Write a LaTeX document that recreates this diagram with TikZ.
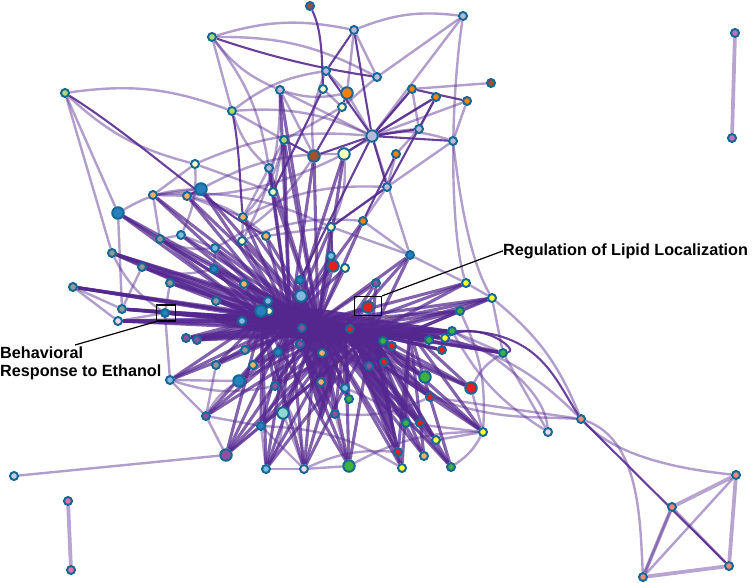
\documentclass[tikz,border=0pt]{standalone}
\usepackage{fontspec}
\setmainfont{Liberation Sans}
\pgfdeclarelayer{edges}
\pgfsetlayers{edges,main}
\definecolor{ep}{RGB}{84,39,143}
\definecolor{bd}{RGB}{20,104,150}
\definecolor{cbr}{RGB}{160,82,45}
\definecolor{clav}{RGB}{184,184,216}
\definecolor{clg}{RGB}{176,216,112}
\definecolor{cly}{RGB}{255,255,192}
\definecolor{cor}{RGB}{255,128,0}
\definecolor{clo}{RGB}{248,176,96}
\definecolor{cbl}{RGB}{40,128,190}
\definecolor{clb}{RGB}{128,184,224}
\definecolor{cgr}{RGB}{144,152,152}
\definecolor{cpu}{RGB}{144,80,160}
\definecolor{cre}{RGB}{230,30,30}
\definecolor{cgn}{RGB}{64,176,64}
\definecolor{cye}{RGB}{255,255,48}
\definecolor{csa}{RGB}{240,136,120}
\definecolor{cpk}{RGB}{230,112,176}
\definecolor{cpw}{RGB}{248,216,232}
\definecolor{cte}{RGB}{144,216,208}
\definecolor{cpp}{RGB}{192,112,192}
\definecolor{cgb}{RGB}{192,208,224}
\begin{document}
\begin{tikzpicture}[x=1pt,y=-1pt,
  nd/.style={circle,draw=bd,line width=2pt,inner sep=0pt,minimum size=8pt},
  bg/.style={nd,minimum size=11.5pt},
  lt/.style={draw=ep,draw opacity=0.45,line width=2.4pt},
  lthick/.style={draw=ep,draw opacity=0.42,line width=3.8pt},
  dk/.style={draw=ep,draw opacity=0.88,line width=2.1pt},
  hv/.style={draw=ep,draw opacity=0.72,line width=3.1pt},
  lab/.style={font=\fontsize{16.2}{19}\selectfont\bfseries,inner sep=0pt},
  boxx/.style={draw=black,line width=1.3pt,inner sep=0pt}]
\useasboundingbox (0,0) rectangle (752,583);
% small nodes
\foreach \n/\x/\y/\c in {
 t1/310/6/cbr, t2/354/30/clav, t3/212/37/clg, t4/463/16/clav, t5/65/93/clg,
 t6/232/111/clg, t7/326/71/clav, t8/323/89/cly, t10/342/107/cly, t11/280/90/clav,
 t13/284/140/clg, t16/195/164/cly, t17/269/168/clav, t18/273/192/cly, t19/491/83/cbr,
 t20/412/89/cor, t21/436/97/cor, t22/467/101/cor, t23/419/129/clav, t24/453/141/clav,
 t25/396/154/cor, t26/387/187/clav, t27/377/77/clav,
 m1/153/195/clo, m2/187/196/clo, m5/243/217/clo, m6/331/227/cly, m7/363/221/cor,
 m8/160/239/cgr, m9/181/235/clb, m10/242/241/cly, m11/266/236/clo, m12/215/248/clb,
 m13/112/253/cgr, m14/142/267/cgr, m15/170/283/cgr, m16/214/269/cbl, m17/300/280/cbl,
 m18/244/284/clo, m19/73/287/cgr, m20/331/256/clb, m23/345/268/cly, m24/410/255/cbl,
 c1/122/309/cgr, c2/118/321/cpw, c3/165/313/cbl, c4/186/338/cpu, c5/197/340/cpu,
 c6/216/301/cgr, c7/242/321/clb, c8/268/301/clb, c10/269/311/cly, c12/245/350/cgr,
 c13/253/365/clo, c14/278/352/cbl, c15/300/344/cpu, c16/322/353/clo, c18/350/329/cre,
 c19/376/283/cpu, c20/302/328/cpu, c21/369/366/cpu, c23/216/365/cgr, c24/170/380/clb,
 c26/275/386/cpu, c27/321/382/clo, c28/345/388/clb, c29/349/399/cgn, c30/206/416/cpu,
 c32/335/414/cpu, c33/261/426/cbl, c35/266/469/clb, c36/304/469/cpw,
 r0/466/283/cye, r1/492/298/cye, r2/460/311/cgn, r3/452/331/cgn, r4/445/338/cye,
 r5/429/340/cgn, r6/383/341/cgn, r7/392/346/cre, r8/442/350/cre, r9/503/353/cgn,
 r10/384/362/cre, r13/430/397/cre, r14/406/423/cgn, r15/420/423/cre, r16/436/440/cye,
 r17/483/432/cye, r18/398/452/cre, r19/402/468/cye, r20/424/456/clo, r21/451/467/cgn,
 r22/548/432/cpw, s1/581/419/csa, s2/736/475/csa, s3/672/507/csa, s4/729/566/csa,
 s5/643/577/csa, p1/735/33/cpp, p2/732/138/cpp, o1/14/476/cgb, o2/68/501/cpk, o3/71/570/cpk}
 \node[nd,fill=\c] (\n) at (\x,\y) {};
% big nodes
\foreach \n/\x/\y/\c in {
 t9/347/93/cor, t12/372/136/clav, t14/314/156/cbr, t15/344/154/cly, m3/201/189/cbl,
 m4/118/213/cbl, m22/333/266/cre, c9/261/311/cbl, c11/301/296/clb, c17/368/307/cre,
 c25/239/381/cbl, c31/283/413/cte, c34/226/455/cpu, c37/349/466/cgn, r11/425/377/cgn,
 r12/471/388/cre}
 \node[bg,fill=\c] (\n) at (\x,\y) {};
% hub points of the dense core
\coordinate (hA) at (262,318);
\coordinate (hB) at (290,321);
\coordinate (hC) at (318,322);
\coordinate (hD) at (345,328);
\coordinate (hE) at (372,333);
\coordinate (hF) at (410,332);
\begin{pgfonlayer}{edges}
% dense core
\fill[ep,opacity=0.92] (215,316) .. controls (270,304) and (320,306) .. (360,316)
  .. controls (390,322) and (430,326) .. (460,332) .. controls (420,340) and (380,342) .. (350,340)
  .. controls (320,344) and (270,336) .. (215,322) -- cycle;
\fill[ep,opacity=0.85] (300,325) .. controls (305,370) and (315,400) .. (322,420)
  .. controls (330,400) and (338,370) .. (345,330) -- cycle;
\fill[ep,opacity=0.85] (350,330) .. controls (365,370) and (380,420) .. (395,440)
  .. controls (392,410) and (385,370) .. (380,334) -- cycle;
\foreach \n in {c1,c2,c3,c4,c5,c6,c7,m19,m13,m14,m15,c24,c23,c12,m18,m16,c8,c9,c10,m4,m8}
  {\foreach \h in {hA,hB,hC} \draw[hv] (\n) -- (\h);}
\foreach \n in {c34,c33,c35,c25,c26,c31,c30,c36,c37,c32,c29,c28,c27,c14,c13,c15,c16,c20}
  {\foreach \h in {hB,hC,hD} \draw[hv] (\n) -- (\h);}
\foreach \n in {r0,r1,r2,r3,r4,r5,r6,r7,r8,r9,r10,r11,r12,r13,r14,r15,r16,r17,r18,r19,r20,r21,c17,c18,c21,m24,c19}
  {\foreach \h in {hC,hD,hE} \draw[hv] (\n) -- (\h);}
\foreach \n in {r1,r2,r3,r9,r12,r18,r19,r20,r21,r17}
  {\draw[hv] (\n) -- (hF);}
\foreach \n in {m17,m22,m20,m23,m6,m10,m11,m12,m9,m5,m3,m2,m1,c11,t18,t17,t14,t15,m7,t11,t13}
  {\foreach \h in {hB,hC} \draw[hv] (\n) -- (\h);}
\foreach \n in {c3,c1,m19,c2,c4,c5,m13} {\foreach \h in {hD,hE} \draw[hv] (\n) -- (\h);}
\foreach \n in {c34,c35,c33,c37,c36,c26} {\draw[hv] (\n) -- (hA); \draw[hv] (\n) -- (hE);}
% light web
\foreach \a/\b in {t5/m4, t5/m13, t3/t6, t6/t13, t11/t12, t2/t27, t4/t27, t4/t12, t7/t9,
 t8/t10, t10/t13, t19/t20, t20/t23, t21/t23, t22/t24, t23/t25, t25/t26, t24/t26, t26/m7,
 t26/m6, t17/t13, t16/m1, t16/t18, m1/m3, m2/m3, m1/m8, m4/m8, m4/c1, m8/m9, m9/m12,
 m12/m16, m13/m14, m14/c1, m15/c3, m19/c1, m19/c2, c2/c3, c24/c3, c24/c30, c30/c34,
 c34/c33, c35/c33, c36/c37, c36/c33, c36/c31, c37/c32, r22/r9, r17/r16, r13/s1,
 s2/s5, s3/s5, m24/r0, r0/r1, r1/r2, m7/m24, m6/m24, t12/m24, t22/t12, t21/t12,
 t20/t12, t27/t10, t2/t9, t9/t12, t11/t14, t17/m5, m5/m10, m2/m5, m11/m6, c24/c25,
 c30/c33, c23/c30, r12/r17, r9/r3, r1/r9, r14/r17, c35/c36, t13/t18}
 \draw[lt] (\a) -- (\b);
\foreach \a/\b in {t5/t6, t3/t27, t3/t2, t6/t12, t11/m10, t16/t12, m1/m6, m2/m11,
 m5/t26, m10/m7, c30/c25, c26/c36, c28/r21, c16/r17, r4/s1, r1/s1, r22/r3, t13/m5,
 t14/m12, t15/m1, t16/m9, t6/t7, t3/t17, m3/t15, m4/m3, c33/r19, c36/r18, c37/r17, r2/r17}
 \draw[lt] (\a) to[bend left=14] (\b);
\foreach \a/\b in {t5/t16, t6/t17, t11/t9, t7/t14, m8/m12, m14/m16, c24/c26, c35/c31,
 c32/r13, r21/r17, r9/r12, t23/t15, t24/t12, t4/t2, t3/t11, m6/t15, m13/c3}
 \draw[lt] (\a) to[bend right=14] (\b);
\draw[lt] (t4) .. controls (448,120) and (452,240) .. (r0);
\draw[lt] (t24) .. controls (460,200) and (470,260) .. (r1);
\draw[lt] (o1) -- (c34);
\draw[lt] (s1) .. controls (640,440) and (640,520) .. (s5);
\draw[lt] (s1) .. controls (620,460) and (690,470) .. (s2);
\draw[lt] (r22) .. controls (545,400) and (520,370) .. (r3);
\draw[lt] (s1) .. controls (520,416) and (500,420) .. (r13);
\draw[lthick] (s2) -- (s3);
\draw[lthick] (s2) -- (s4);
\draw[lthick] (s3) -- (s5);
\draw[lthick] (s4) -- (s5);
\draw[lt] (s3) -- (s4);
\draw[lthick] (p1) -- (p2);
\draw[lthick] (o2) -- (o3);
% darker strands
\foreach \a/\b in {t2/t12, t7/t12, t2/t7, t12/t26, t12/m17, t12/t20, t12/t21, t20/t22,
 t21/t26, t13/t14, t15/t12, t14/t12, t12/t23, t12/t24, t25/m7, t26/m6, t10/t14,
 t8/t18, t9/t10, m6/m22, t17/t18, m3/m2}
 \draw[dk] (\a) -- (\b);
\draw[dk] (t1) .. controls (322,30) and (322,60) .. (t8);
\draw[dk] (t3) .. controls (280,60) and (330,70) .. (t27);
\draw[dk] (t5) .. controls (140,140) and (200,200) .. (m11);
\draw[dk] (t6) .. controls (240,150) and (240,190) .. (m5);
\draw[dk] (r3) .. controls (540,330) and (555,380) .. (s1);
\draw[dk] (s1) -- (s4);
\draw[dk] (r4) .. controls (480,320) and (520,350) .. (r9);
\end{pgfonlayer}
% labels
\node[boxx,minimum width=27pt,minimum height=19pt] (bx1) at (368,306) {};
\node[boxx,minimum width=19pt,minimum height=16pt] (bx2) at (166,313) {};
\node[lab,anchor=base west] (lipid) at (503,255) {Regulation of Lipid Localization};
\node[lab,anchor=base west] (eth1) at (0,358.5) {Behavioral};
\node[lab,anchor=base west] (eth2) at (0,376) {Response to Ethanol};
\coordinate (ethEnd) at (75,345);
\draw[line width=1.2pt] (bx1.north east) -- (lipid.west);
\draw[line width=1.2pt] (bx2.south west) -- (ethEnd);
\end{tikzpicture}
\end{document}
